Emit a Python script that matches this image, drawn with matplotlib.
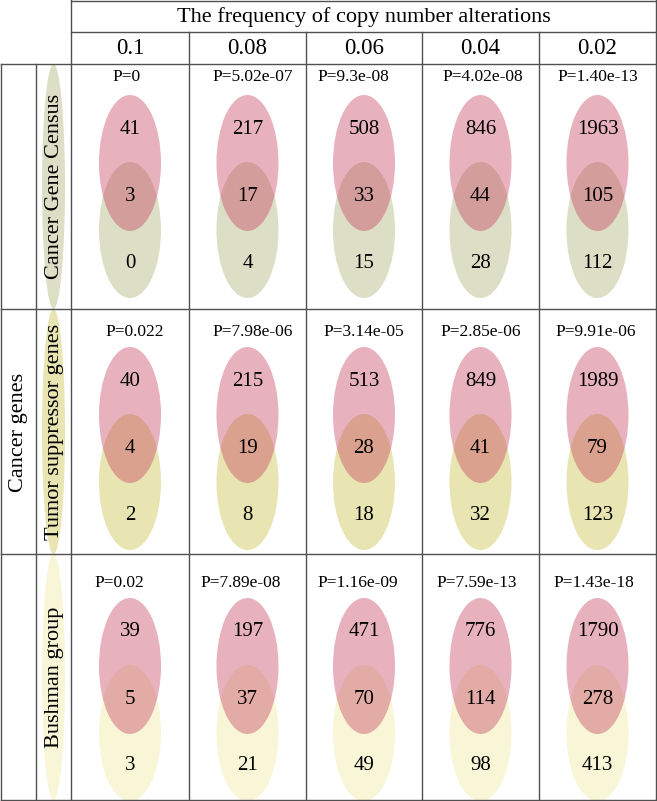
import matplotlib
matplotlib.use("Agg")
import matplotlib.pyplot as plt
from matplotlib.patches import Ellipse

plt.rcParams['font.family'] = ['Liberation Serif', 'DejaVu Serif']

# ---------------- data ----------------
title = "The frequency of copy number alterations"
group_label = "Cancer genes"
thresholds = ['0.1', '0.08', '0.06', '0.04', '0.02']
gene_sets = ['Cancer Gene Census', 'Tumor suppressor genes', 'Bushman group']
p_values = [
    ['P=0', 'P=5.02e-07', 'P=9.3e-08', 'P=4.02e-08', 'P=1.40e-13'],
    ['P=0.022', 'P=7.98e-06', 'P=3.14e-05', 'P=2.85e-06', 'P=9.91e-06'],
    ['P=0.02', 'P=7.89e-08', 'P=1.16e-09', 'P=7.59e-13', 'P=1.43e-18'],
]
only_cna = [
    [41, 217, 508, 846, 1963],
    [40, 215, 513, 849, 1989],
    [39, 197, 471, 776, 1790],
]
overlap = [
    [3, 17, 33, 44, 105],
    [4, 19, 28, 41, 79],
    [5, 37, 70, 114, 278],
]
only_set = [
    [0, 4, 15, 28, 112],
    [2, 8, 18, 32, 123],
    [3, 21, 49, 98, 413],
]

# ---------------- style / layout ----------------
W, H = 657, 801
pink = (0.773, 0.235, 0.361)
pink_alpha = 0.4
set_colors = ['#dcdfc5', '#e8e5b2', '#f8f6d7']
line_color = '#505050'

col_edges = [71, 189, 306, 422, 539, 656]
row_edges = [64, 309, 554, 800]
header_mid = 32
row_shift = [0, 7, 13]
p_y = [13, 23, 29]
p_dx = [[-3, 5, -11, 2, 0], [5, 5, 0, 0, -2], [-11, -7, -6, -4, -4]]
ell_w, ell_h = 62, 136
label_x = 55
group_x = 19

fs_title = 16
fs_thr = 16.5
fs_label = 16
fs_p = 12.5
fs_num = 15

fig = plt.figure(figsize=(W / 100, H / 100), dpi=100)
ax = fig.add_axes([0, 0, 1, 1])
ax.set_xlim(0, W)
ax.set_ylim(H, 0)
ax.axis('off')

# header
ax.text((col_edges[0] + col_edges[-1]) / 2, header_mid / 2 + 1, title,
        ha='center', va='center', fontsize=fs_title)
for j, t in enumerate(thresholds):
    cx = (col_edges[j] + col_edges[j + 1]) / 2
    ax.text(cx, (header_mid + row_edges[0]) / 2 + 1, t, ha='center', va='center', fontsize=fs_thr)

ax.text(group_x, (row_edges[0] + row_edges[-1]) / 2, group_label, rotation=90,
        ha='center', va='center', fontsize=fs_label)

for i, name in enumerate(gene_sets):
    top = row_edges[i]
    bot = row_edges[i + 1]
    # label ellipse
    ax.add_patch(Ellipse(((36 + 71) / 2, (top + bot) / 2), 23, bot - top,
                         facecolor=set_colors[i], edgecolor='none', zorder=1))
    ax.text(label_x, (top + bot) / 2, name, rotation=90, ha='center', va='center',
            fontsize=fs_label, zorder=3)
    pc = top + 99 + row_shift[i]
    gc = top + 166 + row_shift[i]
    for j in range(len(thresholds)):
        cx = (col_edges[j] + col_edges[j + 1]) / 2
        ax.add_patch(Ellipse((cx, gc), ell_w, ell_h, facecolor=set_colors[i],
                             edgecolor='none', zorder=1))
        ax.add_patch(Ellipse((cx, pc), ell_w, ell_h, facecolor=pink, alpha=pink_alpha,
                             edgecolor='none', zorder=2))
        ax.text(cx + p_dx[i][j], top + p_y[i], p_values[i][j], ha='center', va='center',
                fontsize=fs_p, zorder=3)
        ax.text(cx, pc - 34, str(only_cna[i][j]), ha='center', va='center', fontsize=fs_num, zorder=3)
        ax.text(cx, (pc + gc) / 2, str(overlap[i][j]), ha='center', va='center', fontsize=fs_num, zorder=3)
        ax.text(cx, gc + 33, str(only_set[i][j]), ha='center', va='center', fontsize=fs_num, zorder=3)

# grid lines
lw = 1.0
ax.plot([col_edges[0], col_edges[-1]], [0.5, 0.5], color=line_color, lw=lw, zorder=5)
ax.plot([col_edges[0], col_edges[-1]], [header_mid, header_mid], color=line_color, lw=lw, zorder=5)
for y in row_edges:
    ax.plot([0.5, col_edges[-1]], [y, y], color=line_color, lw=lw, zorder=5)
ax.plot([0.5, 0.5], [row_edges[0], row_edges[-1]], color=line_color, lw=lw, zorder=5)
ax.plot([36, 36], [row_edges[0], row_edges[-1]], color=line_color, lw=lw, zorder=5)
ax.plot([col_edges[0], col_edges[0]], [0, row_edges[-1]], color=line_color, lw=lw, zorder=5)
for x in col_edges[1:]:
    ax.plot([x, x], [header_mid, row_edges[-1]], color=line_color, lw=lw, zorder=5)
ax.plot([col_edges[-1], col_edges[-1]], [0, header_mid], color=line_color, lw=lw, zorder=5)

fig.savefig('out.png', dpi=100)
